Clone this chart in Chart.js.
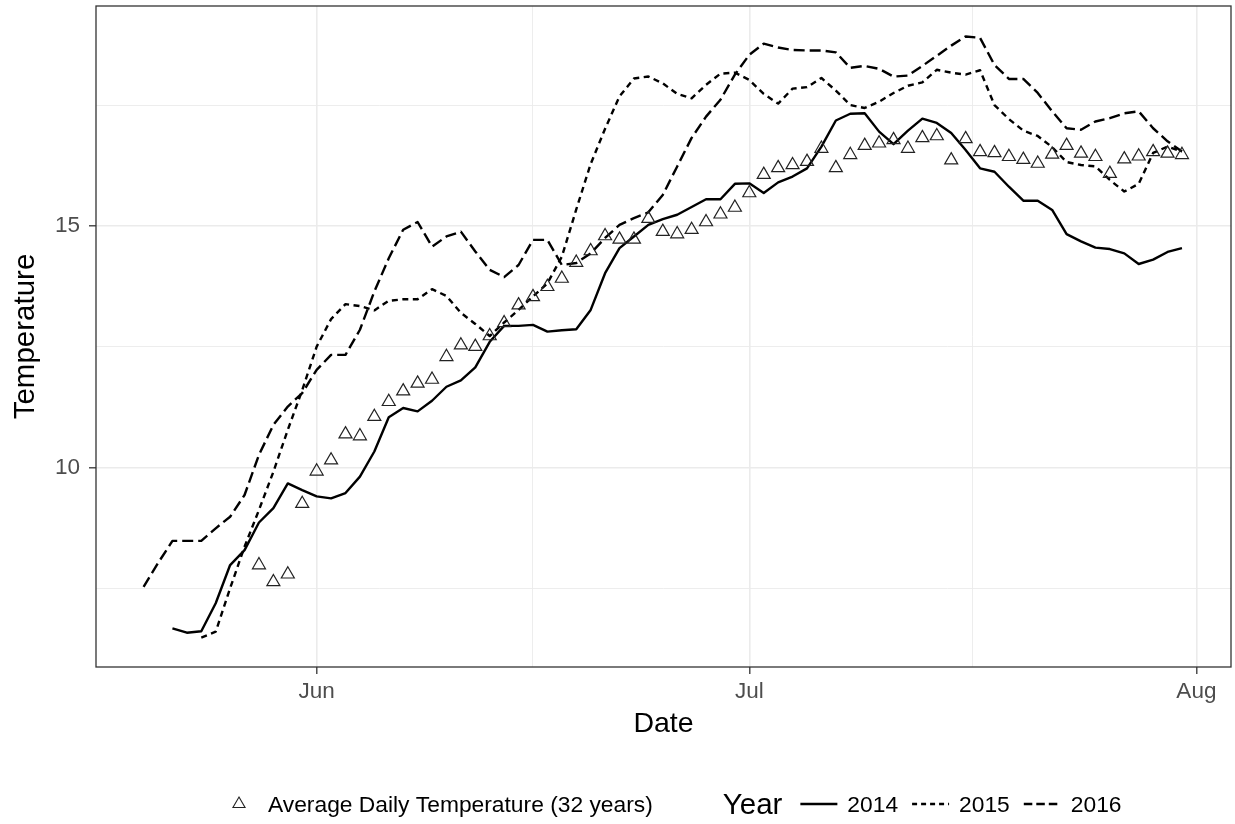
<!DOCTYPE html>
<html>
<head>
<meta charset="utf-8">
<script src="https://cdn.jsdelivr.net/npm/chart.js@4.4.1/dist/chart.umd.min.js"></script>
<style>
  body { margin: 0; background: #fff; }
  #wrap { width: 1235px; height: 824px; }
</style>
</head>
<body>
<div id="wrap"><canvas id="c"></canvas></div>
<script>
// day numbers count from 1 June (= 0), so 1 July = 30 and 1 August = 61
const avgStart = -4
const avgTemp = [7.98, 7.63, 7.79, 9.25, 9.92, 10.15, 10.69, 10.65, 11.05, 11.36,
  11.58, 11.74, 11.82, 12.29, 12.53, 12.50, 12.72, 12.99, 13.36, 13.53,
  13.74, 13.91, 14.24, 14.48, 14.79, 14.72, 14.72, 15.15, 14.88, 14.83,
  14.92, 15.08, 15.24, 15.38, 15.68, 16.06, 16.20, 16.26, 16.33, 16.60,
  16.20, 16.47, 16.66, 16.71, 16.78, 16.60, 16.82, 16.86, 16.36, 16.80,
  16.53, 16.51, 16.43, 16.37, 16.29, 16.48, 16.66, 16.50, 16.43, 16.08,
  16.38, 16.44, 16.53, 16.50, 16.47]

const start2014 = -10
const temp2014 = [6.67, 6.58, 6.61, 7.19, 7.98, 8.29, 8.86, 9.16, 9.67, 9.53,
  9.40, 9.36, 9.47, 9.81, 10.33, 11.04, 11.23, 11.16, 11.38, 11.67,
  11.80, 12.07, 12.60, 12.93, 12.93, 12.95, 12.81, 12.84, 12.86, 13.26,
  14.02, 14.54, 14.78, 15.02, 15.14, 15.23, 15.39, 15.55, 15.55, 15.87,
  15.88, 15.68, 15.90, 16.02, 16.19, 16.64, 17.18, 17.32, 17.33, 16.95,
  16.69, 16.97, 17.22, 17.13, 16.92, 16.57, 16.19, 16.12, 15.81, 15.52,
  15.52, 15.33, 14.83, 14.68, 14.55, 14.52, 14.43, 14.21, 14.30, 14.46,
  14.54]

const start2015 = -8
const temp2015 = [6.48, 6.60, 7.50, 8.36, 9.12, 9.91, 10.78, 11.60, 12.50, 13.07,
  13.38, 13.34, 13.25, 13.45, 13.48, 13.48, 13.69, 13.55, 13.20, 12.97,
  12.72, 13.00, 13.26, 13.54, 13.81, 14.36, 15.34, 16.28, 17.01, 17.68,
  18.05, 18.09, 17.95, 17.73, 17.64, 17.92, 18.15, 18.17, 18.02, 17.73,
  17.53, 17.84, 17.87, 18.06, 17.80, 17.50, 17.44, 17.57, 17.75, 17.90,
  17.97, 18.23, 18.17, 18.13, 18.22, 17.50, 17.21, 16.97, 16.86, 16.63,
  16.32, 16.26, 16.23, 15.95, 15.71, 15.87, 16.51, 16.64, 16.54]

const start2016 = -12
const temp2016 = [7.53, 8.02, 8.48, 8.48, 8.48, 8.74, 8.98, 9.43, 10.26, 10.88,
  11.26, 11.54, 12.02, 12.33, 12.33, 12.85, 13.64, 14.33, 14.92, 15.08,
  14.57, 14.78, 14.88, 14.47, 14.09, 13.94, 14.19, 14.71, 14.71, 14.19,
  14.23, 14.43, 14.75, 15.02, 15.16, 15.28, 15.64, 16.23, 16.82, 17.26,
  17.61, 18.13, 18.54, 18.77, 18.69, 18.64, 18.63, 18.63, 18.59, 18.27,
  18.31, 18.25, 18.09, 18.11, 18.31, 18.52, 18.73, 18.92, 18.89, 18.33,
  18.04, 18.04, 17.75, 17.37, 17.02, 16.99, 17.16, 17.23, 17.33, 17.37,
  17.02, 16.75, 16.54]

const xTickDays = [0, 30, 61]
const xTickLabels = ['Jun', 'Jul', 'Aug']
const xMinorDays = [15, 45.5]
const yTicks = [10, 15]
const yMinor = [7.5, 12.5, 17.5]

const avgLabel = 'Average Daily Temperature (32 years)'
const yearTitle = 'Year'

const FONT = '"Liberation Sans", Arial, sans-serif'
Chart.defaults.font.family = FONT

function points(start, values) {
  return values.map((v, i) => ({ x: start + i, y: v }))
}

function isMajor(list, v) {
  return list.some(t => Math.abs(t - v) < 1e-6)
}

// ggplot-ish panel border on all four sides
const panelBorder = {
  id: 'panelBorder',
  afterDatasetsDraw(chart) {
    const a = chart.chartArea, ctx = chart.ctx
    ctx.save()
    ctx.strokeStyle = '#333333'
    ctx.lineWidth = 1.3
    ctx.strokeRect(a.left, a.top, a.right - a.left, a.bottom - a.top)
    ctx.restore()
  }
}

// the two legends in one row under the plot
const yearLegend = {
  id: 'yearLegend',
  afterDraw(chart) {
    const ctx = chart.ctx
    const ds = chart.data.datasets
    const midY = 804
    ctx.save()
    ctx.fillStyle = '#000'
    ctx.textBaseline = 'alphabetic'

    // triangle key
    ctx.strokeStyle = '#222'
    ctx.lineWidth = 1.1
    const r = 7
    let x = 239
    ctx.beginPath()
    ctx.moveTo(x, midY - r)
    ctx.lineTo(x + r * 0.866, midY + r / 2)
    ctx.lineTo(x - r * 0.866, midY + r / 2)
    ctx.closePath()
    ctx.stroke()

    ctx.font = '22.8px ' + FONT
    x = 268
    ctx.fillText(avgLabel, x, 812)
    x += ctx.measureText(avgLabel).width + 70

    ctx.font = '29.5px ' + FONT
    ctx.fillText(yearTitle, x, 814)
    x += ctx.measureText(yearTitle).width + 18

    ctx.font = '22.8px ' + FONT
    for (let i = 1; i < ds.length; i++) {
      ctx.strokeStyle = '#000'
      ctx.lineWidth = 2.4
      ctx.setLineDash(ds[i].legendDash || [])
      ctx.beginPath()
      ctx.moveTo(x, midY)
      ctx.lineTo(x + 37, midY)
      ctx.stroke()
      ctx.setLineDash([])
      x += 47
      ctx.fillText(ds[i].label, x, 812)
      x += ctx.measureText(ds[i].label).width + 14
    }
    ctx.restore()
  }
}

const lineStyle = {
  borderColor: '#000',
  borderWidth: 2.4,
  pointRadius: 0,
  pointHoverRadius: 0,
  fill: false,
  tension: 0,
  borderJoinStyle: 'round',
  spanGaps: false
}

new Chart(document.getElementById('c'), {
  type: 'line',
  data: {
    datasets: [
      {
        label: avgLabel,
        data: points(avgStart, avgTemp),
        showLine: false,
        pointStyle: 'triangle',
        pointRadius: 7.5,
        pointBorderWidth: 1.2,
        pointBorderColor: '#222',
        pointBackgroundColor: 'rgba(0,0,0,0)'
      },
      Object.assign({ label: '2014', data: points(start2014, temp2014) }, lineStyle),
      Object.assign({ label: '2015', data: points(start2015, temp2015), borderDash: [6, 4.5], legendDash: [5, 4] }, lineStyle),
      Object.assign({ label: '2016', data: points(start2016, temp2016), borderDash: [11, 5], legendDash: [8.5, 4] }, lineStyle)
    ]
  },
  options: {
    responsive: true,
    maintainAspectRatio: false,
    animation: false,
    events: [],
    layout: { autoPadding: false, padding: { top: 6, right: 4, left: 0, bottom: 0 } },
    plugins: {
      legend: { display: false },
      tooltip: { enabled: false }
    },
    scales: {
      x: {
        type: 'linear',
        min: -15.3,
        max: 63.4,
        afterBuildTicks(scale) {
          scale.ticks = xTickDays.concat(xMinorDays).sort((a, b) => a - b).map(v => ({ value: v }))
        },
        afterFit(scale) {
          scale.height = 157
          scale.paddingLeft = 0
          scale.paddingRight = 0
        },
        ticks: {
          autoSkip: false,
          maxRotation: 0,
          padding: 4,
          color: '#4D4D4D',
          font: { size: 22.5, lineHeight: 1.2 },
          callback(v) {
            const i = xTickDays.findIndex(t => Math.abs(t - v) < 1e-6)
            return i >= 0 ? xTickLabels[i] : ''
          }
        },
        grid: {
          color: '#EBEBEB',
          lineWidth: c => (c.tick && isMajor(xTickDays, c.tick.value)) ? 1.6 : 0.9,
          tickLength: 7,
          tickWidth: 1.3,
          tickColor: c => (c.tick && isMajor(xTickDays, c.tick.value)) ? '#333333' : 'rgba(0,0,0,0)'
        },
        border: { display: false },
        title: {
          display: true,
          text: 'Date',
          color: '#000',
          font: { size: 28.5, lineHeight: 1 },
          padding: { top: 0, bottom: 86 }
        }
      },
      y: {
        min: 5.87,
        max: 19.55,
        afterBuildTicks(scale) {
          scale.ticks = yMinor.concat(yTicks).sort((a, b) => a - b).map(v => ({ value: v }))
        },
        afterFit(scale) {
          scale.width = 96
          scale.paddingTop = 0
          scale.paddingBottom = 0
        },
        ticks: {
          autoSkip: false,
          padding: 9,
          color: '#4D4D4D',
          font: { size: 22.5, lineHeight: 1.2 },
          callback(v) { return isMajor(yTicks, v) ? String(v) : '' }
        },
        grid: {
          color: '#EBEBEB',
          lineWidth: c => (c.tick && isMajor(yTicks, c.tick.value)) ? 1.6 : 0.9,
          tickLength: 7,
          tickWidth: 1.3,
          tickColor: c => (c.tick && isMajor(yTicks, c.tick.value)) ? '#333333' : 'rgba(0,0,0,0)'
        },
        border: { display: false },
        title: {
          display: true,
          text: 'Temperature',
          color: '#000',
          font: { size: 29.5, lineHeight: 1 },
          padding: { top: 11, bottom: 0 }
        }
      }
    }
  },
  plugins: [panelBorder, yearLegend]
})
</script>
</body>
</html>
